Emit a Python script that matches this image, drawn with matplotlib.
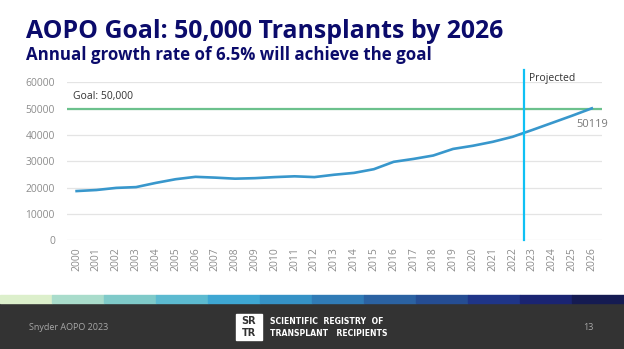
import numpy as np
import matplotlib.pyplot as plt
from matplotlib.patches import Rectangle

# transplants per year, actual through 2022 then projected at 6.5% growth
years = np.arange(2000, 2027)
transplants = [18700, 19100, 19900, 20200, 21800, 23200, 24100, 23800, 23400,
               23600, 24000, 24300, 24000, 24900, 25600, 27000, 29800, 30900,
               32200, 34700, 35900, 37400, 39300, 41900, 44600, 47300, 50119]
goal = 50000
projected_from = 2022.57
yticks = [0, 10000, 20000, 30000, 40000, 50000, 60000]

stripe_colors = ['#dcefcb', '#a9dccb', '#7fcac9', '#5cbad0', '#3ea7d3', '#3592c6',
                 '#307bb6', '#2b62a2', '#254d93', '#1f3588', '#1a2472', '#151b52']

navy = '#0b0b6b'
plt.rcParams['font.family'] = ['Open Sans', 'DejaVu Sans']

W, H = 624, 349
fig = plt.figure(figsize=(W / 100, H / 100), dpi=100)
fig.patch.set_facecolor('white')

# title block
fig.text(26/W, 1 - 38/H, 'AOPO Goal: 50,000 Transplants by 2026',
         fontsize=17.9, fontweight='bold', color=navy, va='baseline')
fig.text(26/W, 1 - 60/H, 'Annual growth rate of 6.5% will achieve the goal',
         fontsize=12.2, fontweight='bold', color=navy, va='baseline')

ax = fig.add_axes([66.7/W, (H - 240.3)/H, 535/W, 158/H])
ax.set_xlim(1999.5, 2026.5)
ax.set_ylim(0, 60000)
for s in ax.spines.values():
    s.set_visible(False)
ax.set_yticks(yticks)
ax.set_yticklabels([str(v) for v in yticks])
ax.set_xticks(years)
ax.set_xticklabels([str(y) for y in years], rotation=90)
ax.tick_params(axis='both', length=0, colors='#8c8c8c', labelsize=7.5)
ax.tick_params(axis='y', pad=8.5, labelsize=7.4)
ax.tick_params(axis='x', pad=5)
ax.grid(axis='y', color='#e4e4e4', lw=0.9)
ax.set_axisbelow(True)

ax.axhline(goal, color='#6cc18d', lw=1.6, zorder=2)
ax.text(2000 - 0.2, goal + 2400, 'Goal: 50,000', fontsize=7.5, color='#333333',
        va='bottom', ha='left')

ax.plot(years, transplants, color='#3897cc', lw=1.9, zorder=3)
ax.annotate(f'{transplants[-1]}', (years[-1], transplants[-1]),
            xytext=(0, -8), textcoords='offset points', ha='center', va='top',
            fontsize=8, color='#7a7a7a')

ax.plot([projected_from, projected_from], [0, 64800], color='#0fc0f4', lw=1.6,
        clip_on=False, zorder=4)
ax.text(projected_from + 0.25, 61500, 'Projected', fontsize=7.5, color='#333333',
        va='center', ha='left')

# footer band with colour stripe
fig.patches.append(Rectangle((0, 0), 1, 46/H, transform=fig.transFigure,
                             color='#333333', zorder=0))
w = 1 / len(stripe_colors)
for i, c in enumerate(stripe_colors):
    fig.patches.append(Rectangle((i * w, 46/H), w, 8/H,
                                 transform=fig.transFigure, color=c, zorder=0))

fig.text(29/W, 1 - 328/H, 'Snyder AOPO 2023', fontsize=6.5, color='#a8a8a8',
         va='center')
fig.text(594/W, 1 - 328/H, '13', fontsize=6.5, color='#a8a8a8',
         va='center', ha='right')

# registry logo
fig.patches.append(Rectangle((236/W, 1 - 340/H), 26/W, 26/H,
                             transform=fig.transFigure, color='white', zorder=1))
fig.text(249/W, 1 - 321/H, 'SR', fontsize=7, fontweight='bold',
         color='#333333', ha='center', va='center', zorder=2, family='DejaVu Sans')
fig.text(249/W, 1 - 333/H, 'TR', fontsize=7, fontweight='bold',
         color='#333333', ha='center', va='center', zorder=2, family='DejaVu Sans')
fig.text(270/W, 1 - 322/H, 'SCIENTIFIC  REGISTRY  OF', fontsize=5.6,
         fontweight='bold', color='white', va='center', family='DejaVu Sans')
fig.text(270/W, 1 - 333/H, 'TRANSPLANT   RECIPIENTS', fontsize=5.6,
         fontweight='bold', color='white', va='center', family='DejaVu Sans')

fig.savefig('out.png', dpi=100)
